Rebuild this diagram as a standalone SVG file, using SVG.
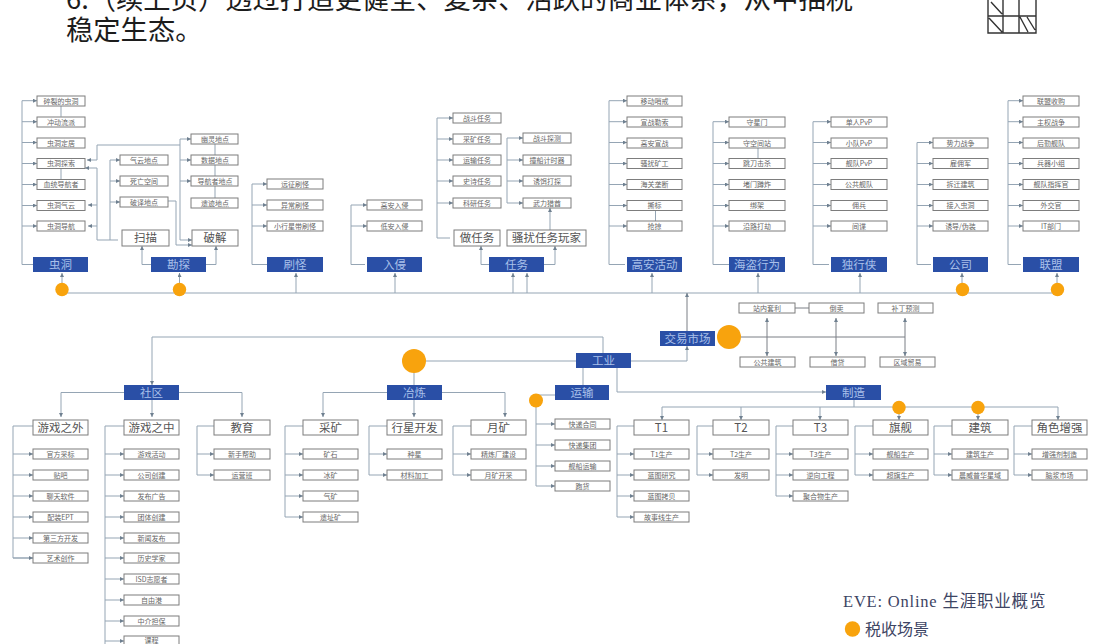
<svg xmlns="http://www.w3.org/2000/svg" width="1113" height="644" viewBox="0 0 1113 644">
<style>
text{font-family:"Noto Sans CJK SC","Liberation Sans",sans-serif;text-anchor:middle}
.b{fill:#fff;stroke:#7d7d7d;stroke-width:1}
.h{fill:#2a4fa6}
.s{font-size:7px;fill:#666}
.l{font-size:11.500px;fill:#555}
.w{font-size:11.500px;fill:#a9c0ea}
.c,.a{fill:none;stroke:#95a5b4;stroke-width:1}
.a{marker-end:url(#m)}
.d{stroke:#7b7f85}
.o{fill:#f8a30d}
.hd{font-size:27.300px;fill:#1c1c1c;text-anchor:start}
.lg{fill:#3d4463;text-anchor:start;font-family:"Liberation Serif","Noto Sans CJK SC",serif}
.ic{fill:none;stroke:#333;stroke-width:1.400}
</style>
<defs>
<marker id="m" viewBox="0 0 6 6" refX="6" refY="3" markerWidth="4" markerHeight="4" markerUnits="userSpaceOnUse" orient="auto"><path d="M0 0L6 3L0 6z" fill="#6f8090"/></marker>
</defs>
<rect width="1113" height="644" fill="#fff"/>
<g id="header">
<text class="hd" x="66" y="9">6.（续上页）透过打造更健全、复杂、活跃的商业体系，从中抽税</text>
<text class="hd" x="66" y="40">稳定生态。</text>
</g>
<g id="icon">
<path class="ic" d="M988 0V33H1036V0M1003 0V33M1019 0V33M988 16H1036M991 2L1002 14M989 18L1002 32M1020 17L1028 32M1027 17L1035 30"/>
</g>
<g id="connectors">
<path class="c" d="M62 293H527M527 293H1058"/>
<path class="a" d="M62 283V273"/><path class="a" d="M179.500 283V273"/><path class="a" d="M296 293V273"/><path class="a" d="M395 293V273"/><path class="a" d="M513 293V273"/><path class="a" d="M527 293V273"/><path class="a" d="M652 293V273"/><path class="a" d="M758 293V273"/><path class="a" d="M860 293V273"/><path class="a" d="M962 283V273"/><path class="a" d="M1057 283V273"/>
<path class="c" d="M22 100.700V264.500H33"/>
<path class="a" d="M22 100.700H37"/><path class="a" d="M22 121.700H37"/><path class="a" d="M22 142.500H37"/><path class="a" d="M22 163.500H37"/><path class="a" d="M22 184.500H37"/><path class="a" d="M22 205.500H37"/><path class="a" d="M22 226H37"/>
<path class="c" d="M61 106V116.700M61 168.500V179.500"/>
<path class="c" d="M151 264.500H142"/><path class="a" d="M142 264.500V246"/>
<path class="c" d="M206 264.500H216"/><path class="a" d="M216 264.500V246"/>
<path class="c" d="M118 240H110V160"/><path class="a" d="M110 160H120"/><path class="a" d="M110 181H120"/><path class="a" d="M110 202H120"/>
<path class="c" d="M110 240H97V168"/><path class="a" d="M97 168H85"/><path class="a" d="M97 205H88"/><path class="a" d="M97 226H88"/>
<path class="a" d="M180 145H97V160H87"/>
<path class="c" d="M180 139V240"/><path class="a" d="M180 139H191"/><path class="a" d="M180 160H191"/><path class="a" d="M180 181H191"/><path class="a" d="M180 240H192"/>
<path class="a" d="M168 201H176V245H192"/>
<path class="c" d="M215 144V198"/>
<path class="c" d="M252 184V264.500H267"/><path class="a" d="M252 184H267"/><path class="a" d="M252 205H267"/><path class="a" d="M252 226H267"/>
<path class="c" d="M351 205V264.500H365"/><path class="a" d="M351 205H367"/><path class="a" d="M351 226H367"/>
<path class="c" d="M437 118V238H450"/><path class="a" d="M437 118H453"/><path class="a" d="M437 139H453"/><path class="a" d="M437 160H453"/><path class="a" d="M437 181H453"/><path class="a" d="M437 203H453"/>
<path class="c" d="M507 138V203"/><path class="a" d="M507 138H523"/><path class="a" d="M507 160H523"/><path class="a" d="M507 181H523"/><path class="a" d="M507 203H523"/>
<path class="a" d="M550 230V208"/>
<path class="c" d="M489 264.500H481"/><path class="a" d="M481 264.500V246"/>
<path class="c" d="M544 264.500H555"/><path class="a" d="M555 264.500V246"/>
<path class="c" d="M609 100.700V264.500H625"/><path class="a" d="M609 100.700H627"/><path class="a" d="M609 121.700H627"/><path class="a" d="M609 142.500H627"/><path class="a" d="M609 163.500H627"/><path class="a" d="M609 184.500H627"/><path class="a" d="M609 205.500H627"/><path class="a" d="M609 226H627"/>
<path class="c" d="M655.500 211V221"/>
<path class="c" d="M713 121.700V264.500H729"/><path class="a" d="M713 121.700H729"/><path class="a" d="M713 142.500H729"/><path class="a" d="M713 163.500H729"/><path class="a" d="M713 184.500H729"/><path class="a" d="M713 205.500H729"/><path class="a" d="M713 226H729"/>
<path class="c" d="M758 148V158"/>
<path class="c" d="M813 121.700V264.500H829"/><path class="a" d="M813 121.700H831"/><path class="a" d="M813 142.500H831"/><path class="a" d="M813 163.500H831"/><path class="a" d="M813 184.500H831"/><path class="a" d="M813 205.500H831"/><path class="a" d="M813 226H831"/>
<path class="c" d="M917 142.500V264.500H931"/><path class="a" d="M917 142.500H933"/><path class="a" d="M917 163.500H933"/><path class="a" d="M917 184.500H933"/><path class="a" d="M917 205.500H933"/><path class="a" d="M917 226H933"/>
<path class="c" d="M1008 100.700V264.500H1021"/><path class="a" d="M1008 100.700H1023"/><path class="a" d="M1008 121.700H1023"/><path class="a" d="M1008 142.500H1023"/><path class="a" d="M1008 163.500H1023"/><path class="a" d="M1008 184.500H1023"/><path class="a" d="M1008 205.500H1023"/><path class="a" d="M1008 226H1023"/>
<path class="a d" d="M687 331V293"/>
<path class="a" d="M631 361H687V346"/>
<path class="c d" d="M741 337H905M795 308H809"/>
<path class="a d" d="M767 337V318"/><path class="a d" d="M836 337V318"/><path class="a d" d="M905 337V318"/><path class="a d" d="M767 337V356"/><path class="a d" d="M836 337V356"/><path class="a d" d="M905 337V356"/>
<path class="c" d="M576 361H414V385"/>
<path class="a" d="M603 353V337H152V385"/>
<path class="a" d="M124 392.500H61V417"/><path class="a" d="M152 400V417"/><path class="a" d="M179 392.500H242V417"/>
<path class="c" d="M13 426V558H33M33 426H13"/><path class="a" d="M13 454H33"/><path class="a" d="M13 475H33"/><path class="a" d="M13 496H33"/><path class="a" d="M13 517H33"/><path class="a" d="M13 538H33"/><path class="a" d="M13 558H33"/>
<path class="c" d="M105 426V644M124 426H105"/><path class="a" d="M105 454H124"/><path class="a" d="M105 475H124"/><path class="a" d="M105 496H124"/><path class="a" d="M105 517H124"/><path class="a" d="M105 538H124"/><path class="a" d="M105 558H124"/><path class="a" d="M105 579H124"/><path class="a" d="M105 600H124"/><path class="a" d="M105 621H124"/><path class="a" d="M105 641H124"/>
<path class="c" d="M214 426H197V475"/><path class="a" d="M197 454H214"/><path class="a" d="M197 475H214"/>
<path class="a" d="M387 392.500H323V417"/><path class="a" d="M414 400V417"/><path class="a" d="M442 392.500H505V417"/>
<path class="c" d="M303 426H285V517"/><path class="a" d="M285 454H303"/><path class="a" d="M285 475H303"/><path class="a" d="M285 496H303"/><path class="a" d="M285 517H303"/>
<path class="c" d="M387 426H369V475"/><path class="a" d="M369 454H387"/><path class="a" d="M369 475H387"/>
<path class="c" d="M471 426H453V475"/><path class="a" d="M453 454H471"/><path class="a" d="M453 475H471"/>
<path class="c" d="M583 368V385M555 395H536V486"/><path class="a" d="M536 424H555"/><path class="a" d="M536 445H555"/><path class="a" d="M536 466H555"/><path class="a" d="M536 486H555"/>
<path class="a" d="M617 368V392H826"/>
<path class="c" d="M854 400V407M662 407H1058"/>
<path class="a" d="M662 407V420"/><path class="a" d="M741 407V420"/><path class="a" d="M820 407V420"/><path class="a" d="M899 407V420"/><path class="a" d="M978 407V420"/><path class="a" d="M1058 407V420"/>
<path class="c" d="M634 426H617V517"/><path class="a" d="M617 454H634"/><path class="a" d="M617 475H634"/><path class="a" d="M617 496H634"/><path class="a" d="M617 517H634"/>
<path class="c" d="M713 426H697V475"/><path class="a" d="M697 454H713"/><path class="a" d="M697 475H713"/>
<path class="c" d="M793 426H776V496"/><path class="a" d="M776 454H793"/><path class="a" d="M776 475H793"/><path class="a" d="M776 496H793"/>
<path class="c" d="M873 426H855V475"/><path class="a" d="M855 454H873"/><path class="a" d="M855 475H873"/>
<path class="c" d="M952 426H934V475"/><path class="a" d="M934 454H952"/><path class="a" d="M934 475H952"/>
<path class="c" d="M1032 426H1014V475"/><path class="a" d="M1014 454H1032"/><path class="a" d="M1014 475H1032"/>
</g>
<g id="tax-dots">
<circle class="o" cx="62" cy="289.500" r="6.700"/><circle class="o" cx="179.500" cy="289.500" r="6.700"/><circle class="o" cx="962.500" cy="289.500" r="6.700"/><circle class="o" cx="1057.500" cy="289.500" r="6.700"/><circle class="o" cx="729" cy="337" r="12"/><circle class="o" cx="414" cy="361" r="12"/><circle class="o" cx="536" cy="400.500" r="7"/><circle class="o" cx="899" cy="407.500" r="6.700"/><circle class="o" cx="978" cy="407.500" r="6.700"/>
</g>
<g id="wormhole"><rect class="h" x="33" y="257" width="55" height="15"/><text class="w" x="60.500" y="268.500">虫洞</text></g>
<g id="w1"><rect class="b" x="37" y="96" width="48" height="10"/><text class="s" x="61" y="103.500">碎裂的虫洞</text></g>
<g id="w2"><rect class="b" x="37" y="117" width="48" height="10"/><text class="s" x="61" y="124.500">冲动流派</text></g>
<g id="w3"><rect class="b" x="37" y="138" width="48" height="10"/><text class="s" x="61" y="145.500">虫洞定居</text></g>
<g id="w4"><rect class="b" x="37" y="158.500" width="48" height="10"/><text class="s" x="61" y="166">虫洞探索</text></g>
<g id="w5"><rect class="b" x="37" y="179.500" width="48" height="10"/><text class="s" x="61" y="187">血统导航者</text></g>
<g id="w6"><rect class="b" x="37" y="200.500" width="48" height="10"/><text class="s" x="61" y="208">虫洞气云</text></g>
<g id="w7"><rect class="b" x="37" y="221" width="48" height="10"/><text class="s" x="61" y="228.500">虫洞导航</text></g>
<g id="explore"><rect class="h" x="151" y="257" width="55" height="15"/><text class="w" x="178.500" y="268.500">勘探</text></g>
<g id="scan"><rect class="b" x="122" y="230" width="47" height="16"/><text class="l" x="145.500" y="242">扫描</text></g>
<g id="hack"><rect class="b" x="192" y="230" width="46" height="16"/><text class="l" x="215" y="242">破解</text></g>
<g id="e1"><rect class="b" x="120" y="155" width="48" height="10"/><text class="s" x="144" y="162.500">气云地点</text></g>
<g id="e2"><rect class="b" x="120" y="176" width="48" height="10"/><text class="s" x="144" y="183.500">死亡空间</text></g>
<g id="e3"><rect class="b" x="120" y="197" width="48" height="10"/><text class="s" x="144" y="204.500">破译地点</text></g>
<g id="e4"><rect class="b" x="191" y="134" width="47" height="10"/><text class="s" x="215" y="141.500">幽灵地点</text></g>
<g id="e5"><rect class="b" x="191" y="155" width="47" height="10"/><text class="s" x="215" y="162.500">数据地点</text></g>
<g id="e6"><rect class="b" x="191" y="176" width="47" height="10"/><text class="s" x="215" y="183.500">导航者地点</text></g>
<g id="e7"><rect class="b" x="191" y="198" width="47" height="10"/><text class="s" x="215" y="205.500">遗迹地点</text></g>
<g id="ratting"><rect class="h" x="267" y="257" width="56" height="15"/><text class="w" x="295" y="268.500">刷怪</text></g>
<g id="r1"><rect class="b" x="267" y="179" width="56" height="10"/><text class="s" x="295" y="186.500">远征刷怪</text></g>
<g id="r2"><rect class="b" x="267" y="200" width="56" height="10"/><text class="s" x="295" y="207.500">异常刷怪</text></g>
<g id="r3"><rect class="b" x="267" y="221" width="56" height="10"/><text class="s" x="295" y="228.500">小行星带刷怪</text></g>
<g id="invade"><rect class="h" x="367" y="257" width="55" height="15"/><text class="w" x="394.500" y="268.500">入侵</text></g>
<g id="i1"><rect class="b" x="367" y="200" width="55" height="10"/><text class="s" x="394.500" y="207.500">高安入侵</text></g>
<g id="i2"><rect class="b" x="367" y="221" width="55" height="10"/><text class="s" x="394.500" y="228.500">低安入侵</text></g>
<g id="mission"><rect class="h" x="489" y="257" width="55" height="15"/><text class="w" x="516.500" y="268.500">任务</text></g>
<g id="doM"><rect class="b" x="454" y="230" width="46" height="16"/><text class="l" x="477" y="242">做任务</text></g>
<g id="harass"><rect class="b" x="507" y="230" width="79" height="16"/><text class="l" x="546.500" y="242">骚扰任务玩家</text></g>
<g id="m1"><rect class="b" x="453" y="113" width="48" height="10"/><text class="s" x="477" y="120.500">战斗任务</text></g>
<g id="m2"><rect class="b" x="453" y="134" width="48" height="10"/><text class="s" x="477" y="141.500">采矿任务</text></g>
<g id="m3"><rect class="b" x="453" y="155" width="48" height="10"/><text class="s" x="477" y="162.500">运输任务</text></g>
<g id="m4"><rect class="b" x="453" y="176" width="48" height="10"/><text class="s" x="477" y="183.500">史诗任务</text></g>
<g id="m5"><rect class="b" x="453" y="198" width="48" height="10"/><text class="s" x="477" y="205.500">科研任务</text></g>
<g id="m6"><rect class="b" x="523" y="133" width="48" height="10"/><text class="s" x="547" y="140.500">战斗探测</text></g>
<g id="m7"><rect class="b" x="523" y="155" width="48" height="10"/><text class="s" x="547" y="162.500">撞船计时器</text></g>
<g id="m8"><rect class="b" x="523" y="176" width="48" height="10"/><text class="s" x="547" y="183.500">诱饵打探</text></g>
<g id="m9"><rect class="b" x="523" y="198" width="48" height="10"/><text class="s" x="547" y="205.500">武力猎酋</text></g>
<g id="highsec"><rect class="h" x="627" y="257" width="55" height="15"/><text class="w" x="654.500" y="268.500">高安活动</text></g>
<g id="g1"><rect class="b" x="627" y="96" width="55" height="10"/><text class="s" x="654.500" y="103.500">移动哨戒</text></g>
<g id="g2"><rect class="b" x="627" y="117" width="55" height="10"/><text class="s" x="654.500" y="124.500">宣战勒索</text></g>
<g id="g3"><rect class="b" x="627" y="138" width="55" height="10"/><text class="s" x="654.500" y="145.500">高安宣战</text></g>
<g id="g4"><rect class="b" x="627" y="158.500" width="55" height="10"/><text class="s" x="654.500" y="166">骚扰矿工</text></g>
<g id="g5"><rect class="b" x="627" y="179.500" width="55" height="10"/><text class="s" x="654.500" y="187">海关垄断</text></g>
<g id="g6"><rect class="b" x="627" y="200.500" width="55" height="10"/><text class="s" x="654.500" y="208">撕标</text></g>
<g id="g7"><rect class="b" x="627" y="221" width="55" height="10"/><text class="s" x="654.500" y="228.500">抢掠</text></g>
<g id="pirate"><rect class="h" x="729" y="257" width="56" height="15"/><text class="w" x="757" y="268.500">海盗行为</text></g>
<g id="p1"><rect class="b" x="729" y="117" width="56" height="10"/><text class="s" x="757" y="124.500">守星门</text></g>
<g id="p2"><rect class="b" x="729" y="138" width="56" height="10"/><text class="s" x="757" y="145.500">守空间站</text></g>
<g id="p3"><rect class="b" x="729" y="158.500" width="56" height="10"/><text class="s" x="757" y="166">跳刀击杀</text></g>
<g id="p4"><rect class="b" x="729" y="179.500" width="56" height="10"/><text class="s" x="757" y="187">堵门蹲炸</text></g>
<g id="p5"><rect class="b" x="729" y="200.500" width="56" height="10"/><text class="s" x="757" y="208">绑架</text></g>
<g id="p6"><rect class="b" x="729" y="221" width="56" height="10"/><text class="s" x="757" y="228.500">沿路打劫</text></g>
<g id="solo"><rect class="h" x="831" y="257" width="56" height="15"/><text class="w" x="859" y="268.500">独行侠</text></g>
<g id="o1"><rect class="b" x="831" y="117" width="56" height="10"/><text class="s" x="859" y="124.500">单人PvP</text></g>
<g id="o2"><rect class="b" x="831" y="138" width="56" height="10"/><text class="s" x="859" y="145.500">小队PvP</text></g>
<g id="o3"><rect class="b" x="831" y="158.500" width="56" height="10"/><text class="s" x="859" y="166">舰队PvP</text></g>
<g id="o4"><rect class="b" x="831" y="179.500" width="56" height="10"/><text class="s" x="859" y="187">公共舰队</text></g>
<g id="o5"><rect class="b" x="831" y="200.500" width="56" height="10"/><text class="s" x="859" y="208">佣兵</text></g>
<g id="o6"><rect class="b" x="831" y="221" width="56" height="10"/><text class="s" x="859" y="228.500">间谍</text></g>
<g id="corp"><rect class="h" x="933" y="257" width="55" height="15"/><text class="w" x="960.500" y="268.500">公司</text></g>
<g id="c1"><rect class="b" x="933" y="138" width="55" height="10"/><text class="s" x="960.500" y="145.500">势力战争</text></g>
<g id="c2"><rect class="b" x="933" y="158.500" width="55" height="10"/><text class="s" x="960.500" y="166">雇佣军</text></g>
<g id="c3"><rect class="b" x="933" y="179.500" width="55" height="10"/><text class="s" x="960.500" y="187">拆迁建筑</text></g>
<g id="c4"><rect class="b" x="933" y="200.500" width="55" height="10"/><text class="s" x="960.500" y="208">接入虫洞</text></g>
<g id="c5"><rect class="b" x="933" y="221" width="55" height="10"/><text class="s" x="960.500" y="228.500">诱导/伪装</text></g>
<g id="alliance"><rect class="h" x="1023" y="257" width="56" height="15"/><text class="w" x="1051" y="268.500">联盟</text></g>
<g id="a1"><rect class="b" x="1023" y="96" width="56" height="10"/><text class="s" x="1051" y="103.500">联盟收购</text></g>
<g id="a2"><rect class="b" x="1023" y="117" width="56" height="10"/><text class="s" x="1051" y="124.500">主权战争</text></g>
<g id="a3"><rect class="b" x="1023" y="138" width="56" height="10"/><text class="s" x="1051" y="145.500">后勤舰队</text></g>
<g id="a4"><rect class="b" x="1023" y="158.500" width="56" height="10"/><text class="s" x="1051" y="166">兵器小组</text></g>
<g id="a5"><rect class="b" x="1023" y="179.500" width="56" height="10"/><text class="s" x="1051" y="187">舰队指挥官</text></g>
<g id="a6"><rect class="b" x="1023" y="200.500" width="56" height="10"/><text class="s" x="1051" y="208">外交官</text></g>
<g id="a7"><rect class="b" x="1023" y="221" width="56" height="10"/><text class="s" x="1051" y="228.500">IT部门</text></g>
<g id="market"><rect class="h" x="660" y="331" width="55" height="15"/><text class="w" x="687.500" y="342.500">交易市场</text></g>
<g id="t1"><rect class="b" x="739" y="303" width="56" height="10"/><text class="s" x="767" y="310.500">站内套利</text></g>
<g id="t2"><rect class="b" x="809" y="303" width="55" height="10"/><text class="s" x="836.500" y="310.500">倒卖</text></g>
<g id="t3"><rect class="b" x="878" y="303" width="55" height="10"/><text class="s" x="905.500" y="310.500">补丁预测</text></g>
<g id="t4"><rect class="b" x="740" y="357" width="55" height="10"/><text class="s" x="767.500" y="364.500">公共建筑</text></g>
<g id="t5"><rect class="b" x="810" y="357" width="55" height="10"/><text class="s" x="837.500" y="364.500">借贷</text></g>
<g id="t6"><rect class="b" x="880" y="357" width="55" height="10"/><text class="s" x="907.500" y="364.500">区域贸易</text></g>
<g id="industry"><rect class="h" x="576" y="353" width="55" height="15"/><text class="w" x="603.500" y="364.500">工业</text></g>
<g id="community"><rect class="h" x="124" y="385" width="55" height="15"/><text class="w" x="151.500" y="396.500">社区</text></g>
<g id="outgame"><rect class="b" x="33" y="420" width="55" height="15"/><text class="l" x="60.500" y="431.500">游戏之外</text></g>
<g id="ingame"><rect class="b" x="124" y="420" width="55" height="15"/><text class="l" x="151.500" y="431.500">游戏之中</text></g>
<g id="edu"><rect class="b" x="214" y="420" width="56" height="15"/><text class="l" x="242" y="431.500">教育</text></g>
<g id="u1"><rect class="b" x="33" y="449" width="55" height="10"/><text class="s" x="60.500" y="456.500">官方采标</text></g>
<g id="u2"><rect class="b" x="33" y="470" width="55" height="10"/><text class="s" x="60.500" y="477.500">贴吧</text></g>
<g id="u3"><rect class="b" x="33" y="491" width="55" height="10"/><text class="s" x="60.500" y="498.500">聊天软件</text></g>
<g id="u4"><rect class="b" x="33" y="512" width="55" height="10"/><text class="s" x="60.500" y="519.500">配装EPT</text></g>
<g id="u5"><rect class="b" x="33" y="533" width="55" height="10"/><text class="s" x="60.500" y="540.500">第三方开发</text></g>
<g id="u6"><rect class="b" x="33" y="553" width="55" height="10"/><text class="s" x="60.500" y="560.500">艺术创作</text></g>
<g id="v1"><rect class="b" x="124" y="449" width="55" height="10"/><text class="s" x="151.500" y="456.500">游戏活动</text></g>
<g id="v2"><rect class="b" x="124" y="470" width="55" height="10"/><text class="s" x="151.500" y="477.500">公司创建</text></g>
<g id="v3"><rect class="b" x="124" y="491" width="55" height="10"/><text class="s" x="151.500" y="498.500">发布广告</text></g>
<g id="v4"><rect class="b" x="124" y="512" width="55" height="10"/><text class="s" x="151.500" y="519.500">团体创建</text></g>
<g id="v5"><rect class="b" x="124" y="533" width="55" height="10"/><text class="s" x="151.500" y="540.500">新闻发布</text></g>
<g id="v6"><rect class="b" x="124" y="553" width="55" height="10"/><text class="s" x="151.500" y="560.500">历史学家</text></g>
<g id="v7"><rect class="b" x="124" y="574" width="55" height="10"/><text class="s" x="151.500" y="581.500">ISD志愿者</text></g>
<g id="v8"><rect class="b" x="124" y="595" width="55" height="10"/><text class="s" x="151.500" y="602.500">自由港</text></g>
<g id="v9"><rect class="b" x="124" y="616" width="55" height="10"/><text class="s" x="151.500" y="623.500">中介担保</text></g>
<g id="v10"><rect class="b" x="124" y="636" width="55" height="10"/><text class="s" x="151.500" y="643">课程</text></g>
<g id="x1"><rect class="b" x="214" y="449" width="56" height="10"/><text class="s" x="242" y="456.500">新手帮助</text></g>
<g id="x2"><rect class="b" x="214" y="470" width="56" height="10"/><text class="s" x="242" y="477.500">运营班</text></g>
<g id="refine"><rect class="h" x="387" y="385" width="55" height="15"/><text class="w" x="414.500" y="396.500">冶炼</text></g>
<g id="mine"><rect class="b" x="303" y="420" width="55" height="15"/><text class="l" x="330.500" y="431.500">采矿</text></g>
<g id="planet"><rect class="b" x="387" y="420" width="55" height="15"/><text class="l" x="414.500" y="431.500">行星开发</text></g>
<g id="moon"><rect class="b" x="471" y="420" width="55" height="15"/><text class="l" x="498.500" y="431.500">月矿</text></g>
<g id="k1"><rect class="b" x="303" y="449" width="55" height="10"/><text class="s" x="330.500" y="456.500">矿石</text></g>
<g id="k2"><rect class="b" x="303" y="470" width="55" height="10"/><text class="s" x="330.500" y="477.500">冰矿</text></g>
<g id="k3"><rect class="b" x="303" y="491" width="55" height="10"/><text class="s" x="330.500" y="498.500">气矿</text></g>
<g id="k4"><rect class="b" x="303" y="512" width="55" height="10"/><text class="s" x="330.500" y="519.500">遗址矿</text></g>
<g id="l1"><rect class="b" x="387" y="449" width="55" height="10"/><text class="s" x="414.500" y="456.500">种星</text></g>
<g id="l2"><rect class="b" x="387" y="470" width="55" height="10"/><text class="s" x="414.500" y="477.500">材料加工</text></g>
<g id="n1"><rect class="b" x="471" y="449" width="55" height="10"/><text class="s" x="498.500" y="456.500">精炼厂建设</text></g>
<g id="n2"><rect class="b" x="471" y="470" width="55" height="10"/><text class="s" x="498.500" y="477.500">月矿开采</text></g>
<g id="transport"><rect class="h" x="555" y="385" width="54" height="15"/><text class="w" x="582" y="396.500">运输</text></g>
<g id="q1"><rect class="b" x="555" y="419" width="55" height="10"/><text class="s" x="582.500" y="426.500">快递合同</text></g>
<g id="q2"><rect class="b" x="555" y="440" width="55" height="10"/><text class="s" x="582.500" y="447.500">快递集团</text></g>
<g id="q3"><rect class="b" x="555" y="461" width="55" height="10"/><text class="s" x="582.500" y="468.500">舰船运输</text></g>
<g id="q4"><rect class="b" x="555" y="481" width="55" height="10"/><text class="s" x="582.500" y="488.500">跑货</text></g>
<g id="build"><rect class="h" x="826" y="385" width="55" height="15"/><text class="w" x="853.500" y="396.500">制造</text></g>
<g id="T1"><rect class="b" x="634" y="420" width="55" height="15"/><text class="l" x="661.500" y="431.500">T1</text></g>
<g id="T2"><rect class="b" x="713" y="420" width="56" height="15"/><text class="l" x="741" y="431.500">T2</text></g>
<g id="T3"><rect class="b" x="793" y="420" width="55" height="15"/><text class="l" x="820.500" y="431.500">T3</text></g>
<g id="capital"><rect class="b" x="873" y="420" width="55" height="15"/><text class="l" x="900.500" y="431.500">旗舰</text></g>
<g id="struct"><rect class="b" x="952" y="420" width="56" height="15"/><text class="l" x="980" y="431.500">建筑</text></g>
<g id="boost"><rect class="b" x="1032" y="420" width="55" height="15"/><text class="l" x="1059.500" y="431.500">角色增强</text></g>
<g id="f1"><rect class="b" x="634" y="449" width="55" height="10"/><text class="s" x="661.500" y="456.500">T1生产</text></g>
<g id="f2"><rect class="b" x="634" y="470" width="55" height="10"/><text class="s" x="661.500" y="477.500">蓝图研究</text></g>
<g id="f3"><rect class="b" x="634" y="491" width="55" height="10"/><text class="s" x="661.500" y="498.500">蓝图拷贝</text></g>
<g id="f4"><rect class="b" x="634" y="512" width="55" height="10"/><text class="s" x="661.500" y="519.500">故事线生产</text></g>
<g id="f5"><rect class="b" x="713" y="449" width="56" height="10"/><text class="s" x="741" y="456.500">T2生产</text></g>
<g id="f6"><rect class="b" x="713" y="470" width="56" height="10"/><text class="s" x="741" y="477.500">发明</text></g>
<g id="f7"><rect class="b" x="793" y="449" width="55" height="10"/><text class="s" x="820.500" y="456.500">T3生产</text></g>
<g id="f8"><rect class="b" x="793" y="470" width="55" height="10"/><text class="s" x="820.500" y="477.500">逆向工程</text></g>
<g id="f9"><rect class="b" x="793" y="491" width="55" height="10"/><text class="s" x="820.500" y="498.500">聚合物生产</text></g>
<g id="f10"><rect class="b" x="873" y="449" width="55" height="10"/><text class="s" x="900.500" y="456.500">舰船生产</text></g>
<g id="f11"><rect class="b" x="873" y="470" width="55" height="10"/><text class="s" x="900.500" y="477.500">超旗生产</text></g>
<g id="f12"><rect class="b" x="952" y="449" width="56" height="10"/><text class="s" x="980" y="456.500">建筑生产</text></g>
<g id="f13"><rect class="b" x="952" y="470" width="56" height="10"/><text class="s" x="980" y="477.500">晨威普华星域</text></g>
<g id="f14"><rect class="b" x="1032" y="449" width="55" height="10"/><text class="s" x="1059.500" y="456.500">增强剂制造</text></g>
<g id="f15"><rect class="b" x="1032" y="470" width="55" height="10"/><text class="s" x="1059.500" y="477.500">脑浆市场</text></g>
<g id="legend">
<text class="lg" x="843" y="607" font-size="16.500" letter-spacing="0.800">EVE: Online 生涯职业概览</text>
<circle class="o" cx="852.500" cy="629" r="7.700"/>
<text class="lg" x="865" y="635" font-size="16">税收场景</text>
</g>
</svg>
